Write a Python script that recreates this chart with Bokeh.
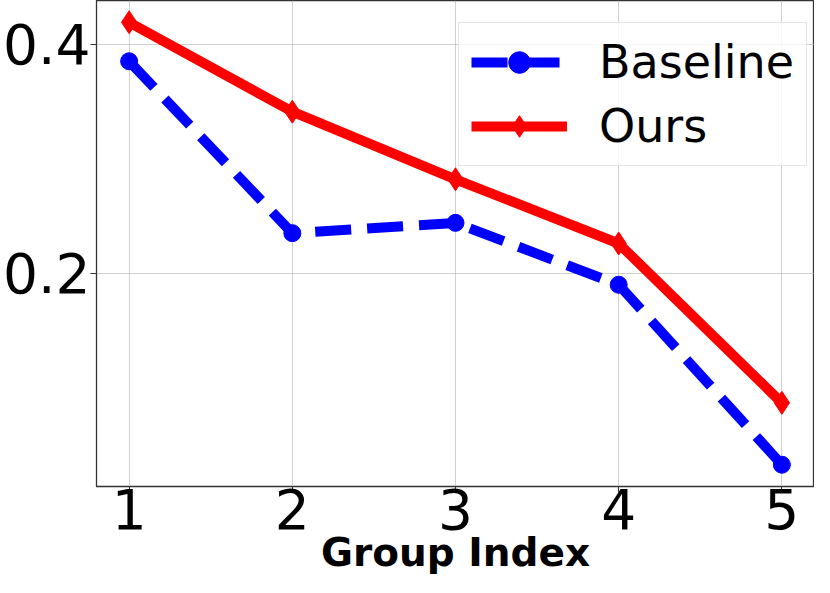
from bokeh.plotting import figure
from bokeh.models import FixedTicker, Range1d, Legend, LegendItem
from bokeh.embed import file_html
from bokeh.resources import INLINE

groups = [1, 2, 3, 4, 5]
baseline = [0.385, 0.235, 0.244, 0.190, 0.033]
ours = [0.419, 0.341, 0.282, 0.226, 0.087]
x_ticks = [1, 2, 3, 4, 5]
y_ticks = [0.2, 0.4]

FONT = "DejaVu Sans"

p = figure(width=814, height=577, output_backend="svg", toolbar_location=None,
           x_range=Range1d(0.8, 5.2), y_range=Range1d(0.014, 0.438),
           min_border_left=0, min_border_right=0, min_border_top=0, min_border_bottom=0)

p.background_fill_color = "white"
p.border_fill_color = "white"
p.outline_line_color = "#333333"
p.outline_line_width = 1.3

l1 = p.line(groups, baseline, line_color="#0000ff", line_width=10, line_dash="36 16")
s1 = p.scatter(groups, baseline, marker="circle", size=17, fill_color="#0000ff", line_color="#0000ff")
l2 = p.line(groups, ours, line_color="#ff0000", line_width=10)
s2 = p.scatter(groups, ours, marker="diamond", size=23, fill_color="#ff0000", line_color="#ff0000")

legend = Legend(items=[LegendItem(label="Baseline", renderers=[l1, s1]),
                       LegendItem(label="Ours", renderers=[l2, s2])],
                location=(362, 320))
legend.margin = 0
legend.padding = 12
legend.spacing = 10
legend.glyph_width = 96
legend.glyph_height = 54
legend.label_standoff = 32
legend.label_text_font = FONT
legend.label_text_font_size = "46px"
legend.label_text_color = "black"
legend.label_height = 54
legend.background_fill_alpha = 0.8
legend.border_line_color = "#cccccc"
legend.border_line_width = 1
p.add_layout(legend)

p.xaxis.ticker = FixedTicker(ticks=x_ticks)
p.yaxis.ticker = FixedTicker(ticks=y_ticks)
p.xaxis.minor_tick_line_color = None
p.yaxis.minor_tick_line_color = None
for ax in (p.xaxis, p.yaxis):
    ax.major_label_text_font = FONT
    ax.major_label_text_font_size = "55px"
    ax.major_label_text_color = "black"
    ax.axis_line_color = "#333333"
    ax.major_tick_line_color = "#333333"
    ax.major_tick_out = 6
    ax.major_tick_in = 0
p.yaxis.major_label_standoff = 0
p.xaxis.major_label_standoff = -4

p.xaxis.axis_label = "Group Index"
p.xaxis.axis_label_text_font = FONT
p.xaxis.axis_label_text_font_style = "bold"
p.xaxis.axis_label_text_font_size = "39px"
p.xaxis.axis_label_text_color = "black"
p.xaxis.axis_label_standoff = -2

p.grid.grid_line_color = "#b0b0b0"
p.grid.grid_line_alpha = 0.6
p.grid.grid_line_width = 1

open("out.html", "w").write(file_html(p, INLINE))
